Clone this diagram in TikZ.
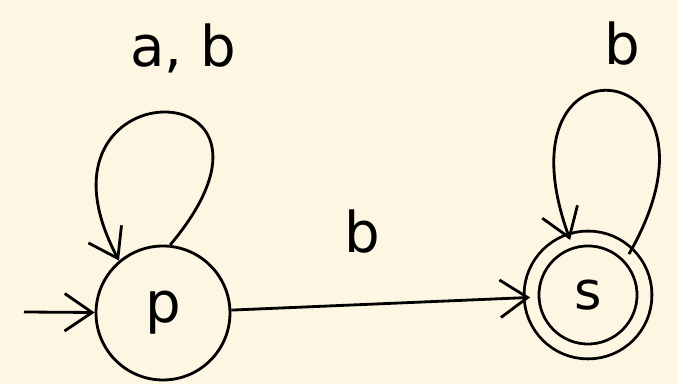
\documentclass[tikz,border=0pt]{standalone}
\usepackage{fontspec}
\setmainfont{DejaVu Sans}
\usetikzlibrary{arrows.meta}
\definecolor{bgCream}{HTML}{FDF6E3}
\tikzset{
  >={Straight Barb[length=5.5mm, width=7.5mm, line width=1.6pt]},
  state/.style={circle, draw, line width=1.6pt, minimum size=2.68cm,
              inner sep=0pt, font=\fontsize{32}{32}\selectfont},
  accept/.style={circle, draw, line width=1.6pt, double=bgCream,
              double distance=0.24cm, minimum size=2.26cm,
              inner sep=0pt, font=\fontsize{30}{30}\selectfont},
  trans/.style={->, line width=1.6pt},
  lbl/.style={font=\fontsize{32}{32}\selectfont},
}

\begin{document}
\begin{tikzpicture}[x=0.02cm, y=0.02cm]
        \useasboundingbox (0,0) rectangle (677,384);
        \fill[bgCream] (0,0) rectangle (677,384);
        \node[state] (p) at (163,71) {p};
        \node[accept] (s) at (588,89) {s};
        \coordinate (start) at (24,72);
        % initial arrow
        \draw[trans] (start) -- (p);
        % loops
        \draw[trans] (p.84) .. controls +(50:4.7cm) and +(118:4.4cm) .. (p.130);
        \draw[trans] (s.45) .. controls +(60:4.6cm) and +(110:4.6cm) .. (s.108);
        \draw[trans] (p) -- (s);
        % labels
        \node[lbl] (lp) at (183,336) {a, b};
        \node[lbl] (ls) at (622,340) {b};
        \node[lbl] (lps) at (362,152) {b};
      \end{tikzpicture}
\end{document}
